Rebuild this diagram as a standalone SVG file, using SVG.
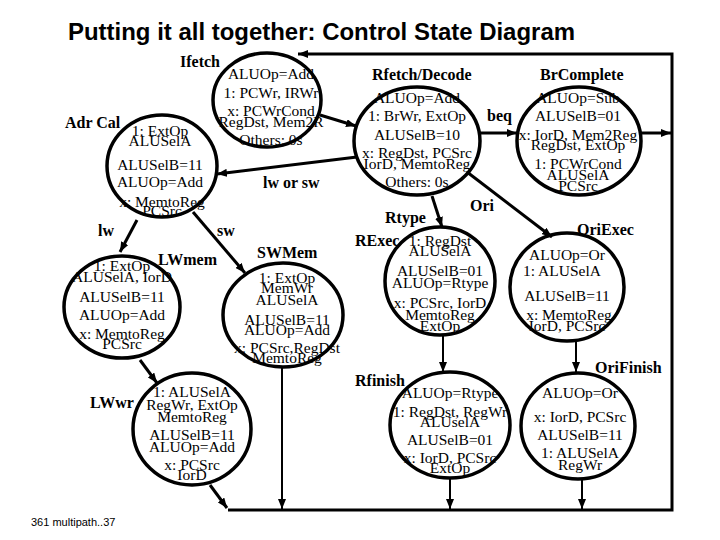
<svg xmlns="http://www.w3.org/2000/svg" width="720" height="540" viewBox="0 0 720 540">
<defs>
<marker id="ah" viewBox="0 0 10 8" refX="10" refY="4" markerWidth="10" markerHeight="8" markerUnits="userSpaceOnUse" orient="auto">
<path d="M0,0 L10,4 L0,8 z" fill="#000"/>
</marker>
<style>
.st{fill:none;stroke:#000;stroke-width:3.5}
.c{stroke:#000;stroke-width:3;fill:none}
.c2{stroke:#000;stroke-width:2;fill:none}
.t{font-family:"Liberation Serif","Times New Roman",serif;font-size:15.5px;text-anchor:middle;fill:#000}
.b{font-family:"Liberation Serif","Times New Roman",serif;font-size:16px;font-weight:bold;fill:#000}
</style>
</defs>
<rect width="720" height="540" fill="#fff"/>
<text x="68" y="40" font-family="Liberation Sans, Arial, sans-serif" font-size="23" font-weight="bold" textLength="507" lengthAdjust="spacingAndGlyphs">Putting it all together: Control State Diagram</text>
<text x="31" y="526" font-family="Liberation Sans, Arial, sans-serif" font-size="11">361  multipath..37</text>

<g id="connectors">
<polyline class="c" points="228,510 672,510 672,54 298,54" marker-end="url(#ah)"/>
<line class="c" x1="320" y1="115" x2="356" y2="126" marker-end="url(#ah)"/>
<line class="c" x1="357" y1="157" x2="217" y2="174" marker-end="url(#ah)"/>
<line class="c" x1="480" y1="133" x2="517" y2="133" marker-end="url(#ah)"/>
<line class="c" x1="641" y1="133" x2="671" y2="133" marker-end="url(#ah)"/>
<line class="c" x1="432" y1="196" x2="442" y2="227" marker-end="url(#ah)"/>
<line class="c" x1="467" y1="172" x2="552" y2="237" marker-end="url(#ah)"/>
<line class="c" x1="137" y1="220" x2="120" y2="252" marker-end="url(#ah)"/>
<line class="c" x1="193" y1="212" x2="245" y2="273" marker-end="url(#ah)"/>
<line class="c" x1="140" y1="360" x2="157" y2="383" marker-end="url(#ah)"/>
<line class="c2" x1="282" y1="367" x2="282" y2="509" marker-end="url(#ah)"/>
<line class="c" x1="210" y1="485" x2="227" y2="508" marker-end="url(#ah)"/>
<line class="c2" x1="443" y1="335" x2="443" y2="372" marker-end="url(#ah)"/>
<line class="c2" x1="576" y1="341" x2="576" y2="372" marker-end="url(#ah)"/>
<line class="c2" x1="450" y1="478" x2="450" y2="509" marker-end="url(#ah)"/>
<line class="c2" x1="582" y1="479" x2="582" y2="509" marker-end="url(#ah)"/>
</g>

<g id="Ifetch">
<ellipse class="st" cx="267" cy="100" rx="54" ry="47"/>
<text class="b" x="180" y="67">Ifetch</text>
<text class="t" x="271" y="79">ALUOp=Add</text>
<text class="t" x="271" y="98">1: PCWr, IRWr</text>
<text class="t" x="271" y="116">x: PCWrCond</text>
<text class="t" x="271" y="127">RegDst, Mem2R</text>
<text class="t" x="271" y="145">Others: 0s</text>
</g>

<g id="AdrCal">
<ellipse class="st" cx="162" cy="166" rx="55" ry="51"/>
<text class="b" x="65" y="128">Adr Cal</text>
<text class="t" x="160" y="136">1: ExtOp</text>
<text class="t" x="160" y="146">ALUSelA</text>
<text class="t" x="160" y="170">ALUSelB=11</text>
<text class="t" x="160" y="187">ALUOp=Add</text>
<text class="t" x="162" y="207">x: MemtoReg</text>
<text class="t" x="162" y="216">PCSrc</text>
</g>

<g id="RfetchDecode">
<ellipse class="st" cx="417" cy="141" rx="63" ry="54"/>
<text class="b" x="372" y="80">Rfetch/Decode</text>
<text class="t" x="417" y="103">ALUOp=Add</text>
<text class="t" x="417" y="121">1: BrWr, ExtOp</text>
<text class="t" x="417" y="140">ALUSelB=10</text>
<text class="t" x="417" y="158">x: RegDst, PCSrc</text>
<text class="t" x="417" y="169">IorD, MemtoReg</text>
<text class="t" x="417" y="187">Others: 0s</text>
</g>

<g id="BrComplete">
<ellipse class="st" cx="579" cy="141" rx="62" ry="54"/>
<text class="b" x="540" y="80">BrComplete</text>
<text class="t" x="578" y="103">ALUOp=Sub</text>
<text class="t" x="578" y="121">ALUSelB=01</text>
<text class="t" x="578" y="140">x: IorD, Mem2Reg</text>
<text class="t" x="578" y="150">RegDst, ExtOp</text>
<text class="t" x="578" y="169">1: PCWrCond</text>
<text class="t" x="578" y="180">ALUSelA</text>
<text class="t" x="578" y="191">PCSrc</text>
</g>

<g id="LWmem">
<ellipse class="st" cx="122" cy="307" rx="58" ry="51"/>
<text class="b" x="158" y="265">LWmem</text>
<text class="t" x="122" y="271">1: ExtOp</text>
<text class="t" x="122" y="282">ALUSelA, IorD</text>
<text class="t" x="122" y="302">ALUSelB=11</text>
<text class="t" x="122" y="320">ALUOp=Add</text>
<text class="t" x="122" y="339">x: MemtoReg</text>
<text class="t" x="122" y="349">PCSrc</text>
</g>

<g id="SWMem">
<ellipse class="st" cx="283" cy="315" rx="60" ry="52"/>
<text class="b" x="257" y="258">SWMem</text>
<text class="t" x="287" y="283">1: ExtOp</text>
<text class="t" x="287" y="293">MemWr</text>
<text class="t" x="287" y="305">ALUSelA</text>
<text class="t" x="287" y="325">ALUSelB=11</text>
<text class="t" x="287" y="335">ALUOp=Add</text>
<text class="t" x="287" y="353">x: PCSrc,RegDst</text>
<text class="t" x="287" y="363">MemtoReg</text>
</g>

<g id="RExec">
<ellipse class="st" cx="440" cy="281" rx="55" ry="54"/>
<text class="b" x="355" y="246">RExec</text>
<text class="t" x="440" y="246">1: RegDst</text>
<text class="t" x="440" y="256">ALUSelA</text>
<text class="t" x="440" y="276">ALUSelB=01</text>
<text class="t" x="440" y="288">ALUOp=Rtype</text>
<text class="t" x="440" y="308">x: PCSrc, IorD</text>
<text class="t" x="440" y="320">MemtoReg</text>
<text class="t" x="440" y="331">ExtOp</text>
</g>

<g id="OriExec">
<ellipse class="st" cx="567" cy="287" rx="57" ry="54"/>
<text class="b" x="577" y="235">OriExec</text>
<text class="t" x="567" y="260">ALUOp=Or</text>
<text class="t" x="562" y="276">1: ALUSelA</text>
<text class="t" x="567" y="301">ALUSelB=11</text>
<text class="t" x="569" y="320">x: MemtoReg</text>
<text class="t" x="567" y="331">IorD, PCSrc</text>
</g>

<g id="LWwr">
<ellipse class="st" cx="192" cy="429" rx="59" ry="56"/>
<text class="b" x="90" y="408">LWwr</text>
<text class="t" x="192" y="397">1: ALUSelA</text>
<text class="t" x="192" y="410">RegWr, ExtOp</text>
<text class="t" x="192" y="422">MemtoReg</text>
<text class="t" x="192" y="440">ALUSelB=11</text>
<text class="t" x="192" y="452">ALUOp=Add</text>
<text class="t" x="192" y="470">x: PCSrc</text>
<text class="t" x="192" y="480">IorD</text>
</g>

<g id="Rfinish">
<ellipse class="st" cx="450" cy="425" rx="60" ry="53"/>
<text class="b" x="355" y="386">Rfinish</text>
<text class="t" x="450" y="398">ALUOp=Rtype</text>
<text class="t" x="450" y="417">1: RegDst, RegWr</text>
<text class="t" x="450" y="427">ALUselA</text>
<text class="t" x="450" y="445">ALUSelB=01</text>
<text class="t" x="450" y="463">x: IorD, PCSrc</text>
<text class="t" x="450" y="473">ExtOp</text>
</g>

<g id="OriFinish">
<ellipse class="st" cx="578" cy="426" rx="57" ry="53"/>
<text class="b" x="595" y="373">OriFinish</text>
<text class="t" x="580" y="398">ALUOp=Or</text>
<text class="t" x="580" y="422">x: IorD, PCSrc</text>
<text class="t" x="580" y="440">ALUSelB=11</text>
<text class="t" x="580" y="458">1: ALUSelA</text>
<text class="t" x="580" y="470">RegWr</text>
</g>

<g id="labels">
<text class="b" x="263" y="188">lw or sw</text>
<text class="b" x="98" y="236">lw</text>
<text class="b" x="217" y="236">sw</text>
<text class="b" x="487" y="121">beq</text>
<text class="b" x="470" y="211">Ori</text>
<text class="b" x="385" y="223">Rtype</text>
</g>
</svg>
